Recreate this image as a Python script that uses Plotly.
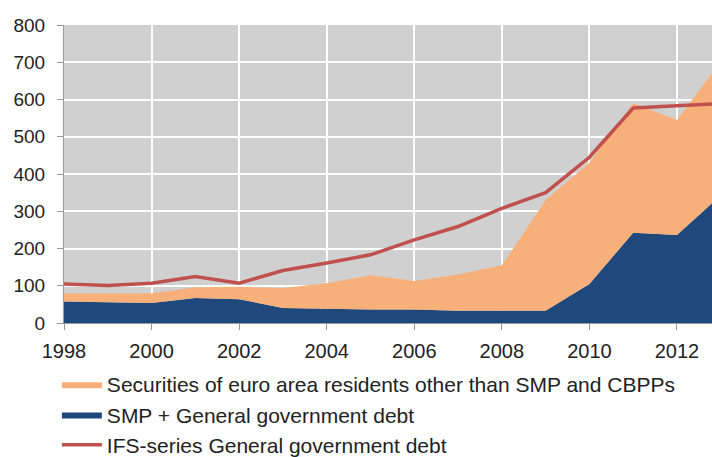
import plotly.graph_objects as go

# --- Data (EUR bn) ---
YEARS = list(range(1998, 2014))
SMP_GOV_DEBT = [58, 57, 54, 67, 64, 40, 38, 36, 36, 33, 33, 33, 105, 242, 236, 343]
OTHER_SECURITIES = [22, 23, 26, 29, 33, 54, 69, 92, 77, 97, 122, 297, 325, 348, 309, 359]
IFS_GOV_DEBT = [105, 101, 107, 125, 107, 141, 161, 183, 223, 259, 308, 350, 445, 577, 583, 589]

X_TICKS = [1998, 2000, 2002, 2004, 2006, 2008, 2010, 2012]
Y_TICKS = [0, 100, 200, 300, 400, 500, 600, 700, 800]

ORANGE = "#f8b07a"
NAVY = "#1f497d"
RED = "#c0504d"

fig = go.Figure()

# stacked areas: blue at the bottom, orange on top of it
fig.add_trace(go.Scatter(
    x=YEARS, y=SMP_GOV_DEBT, name="SMP + General government debt",
    mode="lines", stackgroup="one", line=dict(width=0, color=NAVY),
    fillcolor=NAVY, legendrank=2,
))
fig.add_trace(go.Scatter(
    x=YEARS, y=OTHER_SECURITIES,
    name="Securities of euro area residents other than SMP and CBPPs",
    mode="lines", stackgroup="one", line=dict(width=0, color=ORANGE),
    fillcolor=ORANGE, legendrank=1,
))
fig.add_trace(go.Scatter(
    x=YEARS, y=IFS_GOV_DEBT, name="IFS-series General government debt",
    mode="lines", line=dict(width=3.5, color=RED), legendrank=3,
))

fig.update_layout(
    width=712, height=457,
    margin=dict(l=64, r=0, t=25, b=134, autoexpand=False),
    paper_bgcolor="white",
    plot_bgcolor="#d0d0d0",
    font=dict(family="Liberation Sans, Arial, sans-serif", size=20, color="#222222"),
    showlegend=True,
    legend=dict(
        orientation="v", traceorder="normal",
        x=-0.011, xref="paper", y=-0.138, yanchor="top",
        font=dict(size=21, color="#222222"),
        itemwidth=40, tracegroupgap=0,
        bgcolor="rgba(0,0,0,0)",
    ),
)

fig.update_xaxes(
    range=[1998, 2012.8], tickvals=X_TICKS, ticks="outside", ticklen=6,
    tickcolor="#999999", showline=True, linecolor="#999999", linewidth=1,
    showgrid=True, gridcolor="white", gridwidth=1.5, zeroline=False,
    ticklabelstandoff=4,
)
fig.update_yaxes(
    range=[0, 800], tickvals=Y_TICKS, ticks="outside", ticklen=6,
    tickcolor="#999999", showline=True, linecolor="#999999", linewidth=1,
    showgrid=True, gridcolor="white", gridwidth=1.5, zeroline=False,
    ticklabelstandoff=8, tickfont=dict(size=19),
)

# drop the default 8px page margin so the figure fills the window
fig.write_html(
    "out.html",
    config={"displayModeBar": False},
    post_script="document.body.style.margin = '0';",
)
